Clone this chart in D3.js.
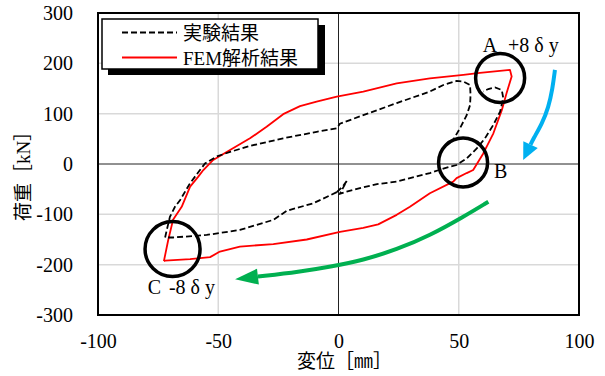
<!DOCTYPE html>
<html>
<head>
<meta charset="utf-8">
<script src="https://cdn.jsdelivr.net/npm/d3@7"></script>
<style>
  body { margin: 0; background: #fff; }
  text { font-family: "Liberation Serif", "Noto Sans CJK JP", serif; }
</style>
</head>
<body>
<div id="viz"></div>
<script>
var W = 605, H = 376;

var xTicks = [-100, -50, 0, 50, 100];
var yTicks = [-300, -200, -100, 0, 100, 200, 300];
var seriesNames = ["実験結果", "FEM解析結果"];

// FEM loop [disp mm, load kN]
var femLoop = [
  [-72.6, -193], [-70.8, -151], [-68.8, -111], [-65.2, -85], [-61.7, -45],
  [-58.3, -25], [-56.2, -12], [-52.1, 8], [-45.1, 28], [-36.8, 51],
  [-29.9, 74], [-23.0, 99], [-16.0, 115], [-9.1, 124], [-0.7, 134],
  [10.3, 144], [24.2, 160], [38.0, 170], [51.9, 177], [58.8, 181],
  [71.3, 187], [72.0, 174], [69.9, 141], [67.9, 107], [64.4, 61],
  [60.2, 21], [56.0, -12], [53.3, -18], [49.1, -28], [47.7, -35],
  [38.0, -58], [29.7, -85], [24.2, -101], [16.5, -120], [10.3, -127],
  [0.6, -135], [-13.2, -150], [-27.1, -159], [-41.0, -164], [-49.3, -174],
  [-53.4, -185], [-61.7, -189], [-72.1, -192], [-72.6, -193]
];

// experiment: left part + upper branch + first unloading
var expUpper = [
  [-0.7, -56], [-10.5, -78], [-21.5, -93], [-27.1, -111], [-41.0, -131],
  [-54.8, -141], [-68.7, -146], [-72.1, -146], [-71.4, -131], [-70.1, -105],
  [-68.0, -85], [-65.9, -72], [-61.7, -38], [-57.6, -12], [-55.5, 1],
  [-50.6, 15], [-45.1, 24], [-36.8, 36], [-23.0, 51], [-9.1, 64],
  [-0.7, 71], [0.6, 80], [10.3, 97], [24.2, 121], [38.0, 144],
  [43.6, 157], [49.1, 165], [51.9, 164], [54.7, 157], [54.9, 137],
  [54.7, 117], [53.3, 97], [50.5, 71], [47.7, 48]
];

// experiment: squiggle near origin + lower right branch + second peak
var expLower = [
  [-0.7, -56], [1.9, -44], [3.4, -34], [0.6, -59], [3.4, -55],
  [8.9, -48], [16.0, -40], [24.2, -35], [38.0, -18], [43.6, -9],
  [49.1, -2], [53.3, 11], [57.5, 31], [60.9, 51], [64.4, 78],
  [67.2, 104], [68.5, 131], [67.9, 147], [65.1, 152], [62.3, 149],
  [60.2, 144]
];

// annotation circles [x, y, radius px]
var circles = [[67.2, 171, 24.5], [51.8, 3, 24.5], [-69, -169, 27.5]];
var labels = [
  [60.0, 223, "A"], [70.5, 223, "+8 δ y"], [64.7, -28, "B"],
  [-79.3, -259, "C"], [-70.5, -259, "-8 δ y"]
];
var blueArrow = [[90.0, 187], [89.0, 150], [87.3, 112], [84.6, 80], [81.0, 50], [76.8, 8]];
var greenArrow = [[62.3, -75], [51.9, -105], [38.0, -142], [24.2, -170],
  [10.3, -191], [-3.5, -204], [-16.0, -214], [-43.0, -229]];

var svg = d3.select("#viz").append("svg")
    .attr("width", W)
    .attr("height", H);

svg.append("rect").attr("width", W).attr("height", H).attr("fill", "#fff");

var x = d3.scaleLinear().domain([-100, 100]).range([98, 579]);
var y = d3.scaleLinear().domain([-300, 300]).range([315, 13]);

// grid
svg.selectAll(".gx").data(xTicks.filter(function(d) { return Math.abs(d) == 50; }))
  .enter().append("line")
    .attr("x1", function(d) { return x(d); }).attr("x2", function(d) { return x(d); })
    .attr("y1", y(300)).attr("y2", y(-300))
    .attr("stroke", "#d9d9d9").attr("stroke-width", 1.5);
svg.selectAll(".gy").data(yTicks.filter(function(d) { return d != 0 && Math.abs(d) != 300; }))
  .enter().append("line")
    .attr("y1", function(d) { return y(d); }).attr("y2", function(d) { return y(d); })
    .attr("x1", x(-100)).attr("x2", x(100))
    .attr("stroke", "#d9d9d9").attr("stroke-width", 1.5);

// zero lines
svg.append("line").attr("x1", x(0)).attr("x2", x(0)).attr("y1", y(300)).attr("y2", y(-300))
  .attr("stroke", "#222").attr("stroke-width", 1);
svg.append("line").attr("x1", x(-100)).attr("x2", x(100)).attr("y1", y(0)).attr("y2", y(0))
  .attr("stroke", "#222").attr("stroke-width", 1);

// axes
var fmt = function(d) { return String(d); };
var ax = svg.append("g").attr("transform", "translate(" + x(-100) + ",0)")
  .call(d3.axisLeft(y).tickValues(yTicks).tickSize(0).tickPadding(25).tickFormat(fmt));
var bx = svg.append("g").attr("transform", "translate(0," + y(-300) + ")")
  .call(d3.axisBottom(x).tickValues(xTicks).tickSize(0).tickPadding(19).tickFormat(fmt));
[ax, bx].forEach(function(g) {
  g.select(".domain").remove();
  g.selectAll("text").attr("font-size", 20).attr("fill", "#000")
    .attr("font-family", "Liberation Serif");
});

var line = d3.line()
    .x(function(d) { return x(d[0]); })
    .y(function(d) { return y(d[1]); });

svg.append("path").attr("d", line(femLoop))
  .attr("fill", "none").attr("stroke", "#ff0000").attr("stroke-width", 1.8)
  .attr("stroke-linejoin", "round");

[expUpper, expLower].forEach(function(s) {
  svg.append("path").attr("d", line(s))
    .attr("fill", "none").attr("stroke", "#000").attr("stroke-width", 1.8)
    .attr("stroke-dasharray", "6,3");
});

// frame
svg.append("rect")
  .attr("x", x(-100)).attr("y", y(300))
  .attr("width", x(100) - x(-100)).attr("height", y(-300) - y(300))
  .attr("fill", "none").attr("stroke", "#000").attr("stroke-width", 2);

// legend
svg.append("rect").attr("x", 108).attr("y", 25).attr("width", 217).attr("height", 50)
  .attr("fill", "#000");
svg.append("rect").attr("x", 102).attr("y", 19).attr("width", 216).attr("height", 50)
  .attr("fill", "#fff").attr("stroke", "#000").attr("stroke-width", 1.5);
seriesNames.forEach(function(n, i) {
  var ly = 32.5 + i * 25;
  svg.append("line").attr("x1", 122).attr("x2", 177).attr("y1", ly).attr("y2", ly)
    .attr("stroke", i == 0 ? "#000" : "#ff0000").attr("stroke-width", 1.8)
    .attr("stroke-dasharray", i == 0 ? "6,3" : null);
  svg.append("text").attr("x", 183).attr("y", ly + 7).attr("font-size", 19)
    .attr("fill", "#000").text(n);
});

// circles
svg.selectAll(".circ").data(circles).enter().append("circle")
  .attr("cx", function(d) { return x(d[0]); })
  .attr("cy", function(d) { return y(d[1]); })
  .attr("r", function(d) { return d[2]; })
  .attr("fill", "none").attr("stroke", "#000").attr("stroke-width", 3.5);

svg.selectAll(".lab").data(labels).enter().append("text")
  .attr("x", function(d) { return x(d[0]); })
  .attr("y", function(d) { return y(d[1]); })
  .attr("font-size", 20).attr("fill", "#000")
  .text(function(d) { return d[2]; });

// arrows
function arrow(pts, color, len, hw) {
  var p = pts.map(function(d) { return [x(d[0]), y(d[1])]; });
  var tip = p[p.length - 1], prev = p[p.length - 2];
  var dx = tip[0] - prev[0], dy = tip[1] - prev[1];
  var L = Math.sqrt(dx * dx + dy * dy);
  var ux = dx / L, uy = dy / L;
  var base = [tip[0] - ux * len, tip[1] - uy * len];
  var body = p.slice(0, p.length - 1).concat([base]);
  svg.append("path")
    .attr("d", d3.line().curve(d3.curveBasis)(body))
    .attr("fill", "none").attr("stroke", color).attr("stroke-width", 4);
  svg.append("path")
    .attr("d", "M" + tip + "L" + [base[0] - uy * hw, base[1] + ux * hw] +
      "L" + [base[0] + uy * hw, base[1] - ux * hw] + "Z")
    .attr("fill", color);
}
arrow(blueArrow, "#00b0f0", 17, 8);
arrow(greenArrow, "#00b050", 23, 8);

// axis titles
svg.append("text")
  .attr("transform", "translate(23,171.5) rotate(-90)")
  .attr("text-anchor", "middle").attr("dominant-baseline", "central")
  .attr("font-size", 19).attr("fill", "#000")
  .text("荷重［kN］");
svg.append("text")
  .attr("x", 344.5).attr("y", 368)
  .attr("text-anchor", "middle")
  .attr("font-size", 19).attr("fill", "#000")
  .text("変位［㎜］");
</script>
</body>
</html>
